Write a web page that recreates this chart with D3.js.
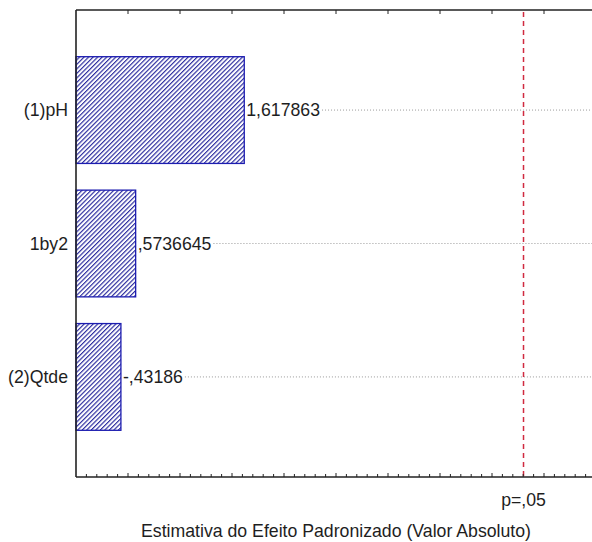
<!DOCTYPE html>
<html>
<head>
<meta charset="utf-8">
<script src="https://cdn.jsdelivr.net/npm/d3@7"></script>
<style>
  html, body { margin: 0; padding: 0; background: #fff; }
  svg { display: block; }
  text { font-family: "Liberation Sans", Arial, sans-serif; fill: #1e1e1e; }
</style>
</head>
<body>
<svg id="chart" width="592" height="542"></svg>
<script>
// Pareto chart of standardized effects
const categories = ["(1)pH", "1by2", "(2)Qtde"];
const effects = [1.617863, 0.5736645, -0.43186];
const effectLabels = ["1,617863", ",5736645", "-,43186"];
const pCritical = 4.303;           // t(0.975; 2 df)
const pLabel = "p=,05";
const axisTitle = "Estimativa do Efeito Padronizado (Valor Absoluto)";
const xDomain = [0, 5];
const majorTicks = [0.5, 1, 1.5, 2, 2.5, 3, 3.5, 4, 4.5, 5];
const minorTicks = d3.range(1, 50).map(i => i / 10);

const svg = d3.select("#chart");
const m = { left: 76, right: 596, top: 10, bottom: 477 };
const fontSize = 17.7;

const x = d3.scaleLinear().domain(xDomain).range([m.left, m.right]);
const y = d3.scalePoint().domain(categories).range([m.top, m.bottom]).padding(0.75);
const barH = y.step() * 0.8;

// hatch pattern for bars
const hs = 3.2;
const defs = svg.append("defs");
const pat = defs.append("pattern")
  .attr("id", "hatch")
  .attr("patternUnits", "userSpaceOnUse")
  .attr("width", hs).attr("height", hs)
  .attr("patternTransform", "rotate(45)");
pat.append("rect").attr("width", hs).attr("height", hs).attr("fill", "#fff");
pat.append("line").attr("x1", 0.6).attr("y1", 0).attr("x2", 0.6).attr("y2", hs)
  .attr("stroke", "#20209a").attr("stroke-width", 1.1);

const data = categories.map((c, i) => ({ c, v: effects[i], label: effectLabels[i] }));

// value labels (measured first so the dotted guides start after them)
const labels = svg.append("g").selectAll("text").data(data).join("text")
  .attr("x", d => x(Math.abs(d.v)) + 2)
  .attr("y", d => y(d.c))
  .attr("dy", "0.36em")
  .attr("font-size", fontSize)
  .text(d => d.label);

// dotted guide lines
svg.append("g").selectAll("line").data(data).join("line")
  .attr("x1", (d, i) => x(Math.abs(d.v)) + 4 + labels.nodes()[i].getComputedTextLength())
  .attr("x2", m.right)
  .attr("y1", d => y(d.c)).attr("y2", d => y(d.c))
  .attr("stroke", "#9a9a9a").attr("stroke-width", 1)
  .attr("stroke-dasharray", "1,2");

// bars
svg.append("g").selectAll("rect").data(data).join("rect")
  .attr("x", x(0))
  .attr("y", d => y(d.c) - barH / 2)
  .attr("width", d => x(Math.abs(d.v)) - x(0))
  .attr("height", barH)
  .attr("fill", "url(#hatch)")
  .attr("stroke", "#1c1cb0").attr("stroke-width", 1.3);

// category labels
svg.append("g").selectAll("text").data(data).join("text")
  .attr("x", m.left - 8)
  .attr("y", d => y(d.c))
  .attr("dy", "0.36em")
  .attr("text-anchor", "end")
  .attr("font-size", fontSize)
  .text(d => d.c);

// significance line
svg.append("line")
  .attr("x1", x(pCritical)).attr("x2", x(pCritical))
  .attr("y1", m.top + 2).attr("y2", m.bottom)
  .attr("stroke", "#d02a40").attr("stroke-width", 1.5)
  .attr("stroke-dasharray", "5,4");

// axes frame
const axisColor = "#222";
svg.append("line").attr("x1", m.left).attr("x2", 592).attr("y1", m.top).attr("y2", m.top)
  .attr("stroke", axisColor).attr("stroke-width", 1.6);
svg.append("line").attr("x1", m.left).attr("x2", 592).attr("y1", m.bottom).attr("y2", m.bottom)
  .attr("stroke", axisColor).attr("stroke-width", 1.6);
svg.append("line").attr("x1", m.left).attr("x2", m.left).attr("y1", m.top).attr("y2", m.bottom)
  .attr("stroke", axisColor).attr("stroke-width", 1.6);

// top ticks (major)
svg.append("g").selectAll("line").data(majorTicks).join("line")
  .attr("x1", d => x(d)).attr("x2", d => x(d))
  .attr("y1", m.top).attr("y2", m.top + 4)
  .attr("stroke", axisColor).attr("stroke-width", 1);

// bottom ticks (minor)
svg.append("g").selectAll("line").data(minorTicks).join("line")
  .attr("x1", d => x(d)).attr("x2", d => x(d))
  .attr("y1", m.bottom).attr("y2", d => m.bottom - (Math.abs(d * 2 - Math.round(d * 2)) < 1e-6 ? 4 : 3))
  .attr("stroke", axisColor).attr("stroke-width", 1);

// p-value label
svg.append("text")
  .attr("x", x(pCritical)).attr("y", 506)
  .attr("text-anchor", "middle")
  .attr("font-size", fontSize)
  .text(pLabel);

// axis title
svg.append("text")
  .attr("x", (m.left + m.right) / 2).attr("y", 537)
  .attr("text-anchor", "middle")
  .attr("font-size", fontSize)
  .text(axisTitle);
</script>
</body>
</html>
